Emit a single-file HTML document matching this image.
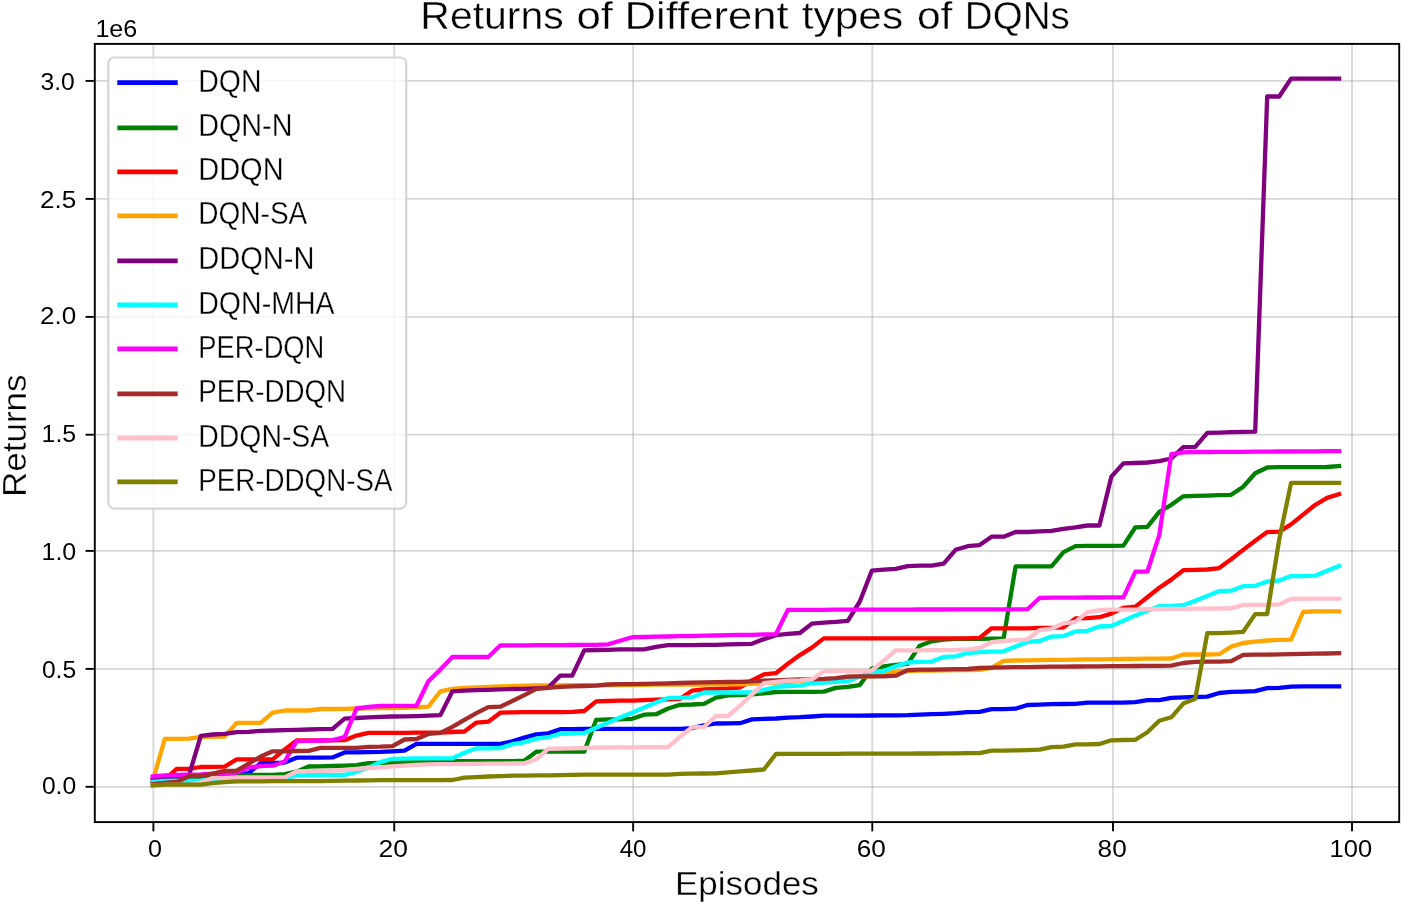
<!DOCTYPE html>
<html><head><meta charset="utf-8"><title>Returns of Different types of DQNs</title>
<style>html,body{margin:0;padding:0;background:#fff;overflow:hidden;}svg{display:block;font-family:"Liberation Sans",sans-serif;will-change:transform;filter:blur(0.45px);}text{font-family:"Liberation Sans",sans-serif;stroke:#fff;stroke-width:0;vector-effect:non-scaling-stroke;}.t1{stroke-width:0.4px}.t2{stroke-width:0.35px}.t3{stroke-width:0.3px}</style></head><body>
<svg width="1405" height="905" viewBox="0 0 1405 905">
<rect x="0" y="0" width="1405" height="905" fill="#ffffff"/>
<g stroke="#b0b0b0" stroke-opacity="0.5" stroke-width="1.8" fill="none">
<line x1="153.40" y1="43.9" x2="153.40" y2="822.1"/>
<line x1="394.25" y1="43.9" x2="394.25" y2="822.1"/>
<line x1="633.15" y1="43.9" x2="633.15" y2="822.1"/>
<line x1="872.30" y1="43.9" x2="872.30" y2="822.1"/>
<line x1="1113.00" y1="43.9" x2="1113.00" y2="822.1"/>
<line x1="1352.00" y1="43.9" x2="1352.00" y2="822.1"/>
<line x1="94.8" y1="786.80" x2="1399.2" y2="786.80"/>
<line x1="94.8" y1="668.90" x2="1399.2" y2="668.90"/>
<line x1="94.8" y1="550.90" x2="1399.2" y2="550.90"/>
<line x1="94.8" y1="434.70" x2="1399.2" y2="434.70"/>
<line x1="94.8" y1="316.90" x2="1399.2" y2="316.90"/>
<line x1="94.8" y1="198.90" x2="1399.2" y2="198.90"/>
<line x1="94.8" y1="80.90" x2="1399.2" y2="80.90"/>
</g>
<clipPath id="ax"><rect x="94.8" y="43.9" width="1304.4" height="778.2"/></clipPath>
<g clip-path="url(#ax)" fill="none" stroke-width="4.3" stroke-linejoin="round" stroke-linecap="square">
<polyline stroke="#0000ff" points="152.8,781.8 164.8,779.0 176.8,778.6 188.8,778.3 200.8,777.8 212.8,777.1 224.7,776.0 236.7,774.8 248.7,773.1 260.7,763.2 272.7,762.9 284.7,762.6 296.6,757.7 308.6,757.7 320.6,757.7 332.6,757.4 344.6,752.4 356.5,752.4 368.5,752.1 380.5,751.9 392.5,751.3 404.5,750.6 416.5,743.8 428.4,743.8 440.4,743.8 452.4,743.8 464.4,743.8 476.4,743.8 488.3,743.8 500.3,743.8 512.3,741.4 524.3,737.6 536.3,734.4 548.3,733.4 560.2,729.2 572.2,729.2 584.2,728.8 596.2,728.8 608.2,728.8 620.1,728.8 632.1,728.8 644.1,728.8 656.1,728.8 668.1,728.8 680.1,728.8 692.0,728.2 704.0,725.4 716.0,723.5 728.0,723.3 740.0,723.2 751.9,719.4 763.9,718.9 775.9,718.5 787.9,717.6 799.9,717.2 811.9,716.5 823.8,715.7 835.8,715.7 847.8,715.7 859.8,715.7 871.8,715.5 883.8,715.3 895.7,715.3 907.7,715.1 919.7,714.6 931.7,714.2 943.7,713.8 955.6,713.2 967.6,712.2 979.6,711.8 991.6,709.2 1003.6,709.2 1015.6,708.7 1027.5,705.0 1039.5,704.6 1051.5,704.2 1063.5,704.0 1075.5,703.8 1087.4,702.6 1099.4,702.6 1111.4,702.6 1123.4,702.6 1135.4,702.2 1147.4,700.2 1159.3,700.1 1171.3,697.8 1183.3,697.3 1195.3,697.0 1207.3,696.6 1219.2,693.0 1231.2,691.9 1243.2,691.6 1255.2,691.2 1267.2,688.1 1279.2,687.8 1291.1,686.7 1303.1,686.3 1315.1,686.3 1327.1,686.3 1339.1,686.3"/>
<polyline stroke="#008000" points="152.8,784.2 164.8,783.0 176.8,781.8 188.8,780.7 200.8,779.5 212.8,777.6 224.7,776.4 236.7,775.5 248.7,775.1 260.7,774.9 272.7,774.8 284.7,774.2 296.6,771.7 308.6,766.5 320.6,766.3 332.6,766.0 344.6,765.6 356.5,765.2 368.5,763.2 380.5,763.0 392.5,762.6 404.5,762.1 416.5,761.6 428.4,761.4 440.4,761.2 452.4,761.2 464.4,761.2 476.4,761.2 488.3,761.2 500.3,761.2 512.3,761.2 524.3,760.7 536.3,751.7 548.3,751.7 560.2,751.7 572.2,751.7 584.2,751.7 596.2,719.8 608.2,719.4 620.1,719.4 632.1,718.8 644.1,714.7 656.1,714.2 668.1,708.5 680.1,704.8 692.0,704.5 704.0,703.8 716.0,697.7 728.0,695.4 740.0,695.1 751.9,694.4 763.9,693.4 775.9,692.0 787.9,691.8 799.9,691.8 811.9,691.8 823.8,691.6 835.8,687.9 847.8,686.9 859.8,685.1 871.8,668.7 883.8,666.3 895.7,665.0 907.7,663.8 919.7,645.7 931.7,641.3 943.7,639.5 955.6,638.9 967.6,638.8 979.6,638.8 991.6,638.6 1003.6,638.5 1015.6,566.3 1027.5,566.3 1039.5,566.3 1051.5,566.3 1063.5,552.1 1075.5,546.1 1087.4,545.9 1099.4,545.9 1111.4,545.9 1123.4,545.6 1135.4,527.3 1147.4,526.8 1159.3,511.9 1171.3,504.8 1183.3,496.3 1195.3,495.9 1207.3,495.6 1219.2,495.2 1231.2,494.8 1243.2,486.7 1255.2,473.3 1267.2,467.5 1279.2,467.2 1291.1,467.2 1303.1,467.2 1315.1,467.2 1327.1,467.0 1339.1,466.0"/>
<polyline stroke="#ff0000" points="152.8,780.0 164.8,779.3 176.8,768.9 188.8,768.9 200.8,767.0 212.8,766.8 224.7,766.6 236.7,759.3 248.7,759.3 260.7,759.3 272.7,759.3 284.7,749.4 296.6,740.5 308.6,740.5 320.6,740.5 332.6,740.3 344.6,740.2 356.5,735.6 368.5,732.8 380.5,732.8 392.5,732.8 404.5,732.8 416.5,732.6 428.4,732.6 440.4,732.6 452.4,732.0 464.4,731.5 476.4,722.6 488.3,721.7 500.3,712.7 512.3,712.3 524.3,712.2 536.3,712.2 548.3,712.2 560.2,712.2 572.2,711.8 584.2,711.0 596.2,701.4 608.2,701.0 620.1,700.6 632.1,700.6 644.1,700.1 656.1,699.7 668.1,699.3 680.1,698.8 692.0,690.7 704.0,689.4 716.0,688.8 728.0,688.3 740.0,687.5 751.9,680.4 763.9,674.4 775.9,673.2 787.9,663.8 799.9,655.1 811.9,647.6 823.8,638.4 835.8,638.4 847.8,638.4 859.8,638.4 871.8,638.4 883.8,638.4 895.7,638.4 907.7,638.4 919.7,638.4 931.7,638.4 943.7,638.4 955.6,638.4 967.6,638.4 979.6,637.9 991.6,628.3 1003.6,628.3 1015.6,628.3 1027.5,628.3 1039.5,627.8 1051.5,627.8 1063.5,627.3 1075.5,618.4 1087.4,618.1 1099.4,617.2 1111.4,613.6 1123.4,607.8 1135.4,606.6 1147.4,597.3 1159.3,587.8 1171.3,579.6 1183.3,570.2 1195.3,569.9 1207.3,569.5 1219.2,568.1 1231.2,559.3 1243.2,549.9 1255.2,540.7 1267.2,532.1 1279.2,531.6 1291.1,524.4 1303.1,514.7 1315.1,505.0 1327.1,497.9 1339.1,494.1"/>
<polyline stroke="#ffa500" points="152.8,780.9 164.8,738.9 176.8,738.9 188.8,738.6 200.8,736.9 212.8,736.9 224.7,736.7 236.7,722.8 248.7,722.8 260.7,722.8 272.7,712.6 284.7,710.5 296.6,710.5 308.6,710.5 320.6,709.0 332.6,709.0 344.6,708.8 356.5,708.5 368.5,708.4 380.5,708.2 392.5,708.1 404.5,707.8 416.5,707.4 428.4,706.7 440.4,691.3 452.4,688.8 464.4,687.8 476.4,687.3 488.3,686.8 500.3,686.5 512.3,686.1 524.3,685.7 536.3,685.4 548.3,685.4 560.2,685.3 572.2,685.2 584.2,685.2 596.2,685.1 608.2,685.0 620.1,685.0 632.1,684.9 644.1,684.8 656.1,684.7 668.1,684.7 680.1,684.6 692.0,684.5 704.0,684.5 716.0,684.4 728.0,684.3 740.0,684.3 751.9,683.8 763.9,683.1 775.9,682.6 787.9,681.9 799.9,681.2 811.9,680.7 823.8,680.3 835.8,679.6 847.8,677.0 859.8,676.5 871.8,676.3 883.8,674.9 895.7,671.3 907.7,671.0 919.7,670.7 931.7,670.6 943.7,670.4 955.6,670.2 967.6,670.0 979.6,669.8 991.6,667.8 1003.6,660.8 1015.6,660.5 1027.5,660.3 1039.5,660.1 1051.5,659.9 1063.5,659.8 1075.5,659.6 1087.4,659.4 1099.4,659.3 1111.4,659.1 1123.4,659.0 1135.4,658.9 1147.4,658.7 1159.3,658.6 1171.3,658.5 1183.3,654.5 1195.3,654.5 1207.3,654.5 1219.2,654.2 1231.2,646.6 1243.2,643.0 1255.2,641.7 1267.2,640.5 1279.2,639.9 1291.1,639.7 1303.1,612.0 1315.1,611.4 1327.1,611.4 1339.1,611.4"/>
<polyline stroke="#800080" points="152.8,779.5 164.8,778.3 176.8,777.1 188.8,776.0 200.8,735.8 212.8,734.5 224.7,733.9 236.7,732.2 248.7,731.8 260.7,730.9 272.7,730.5 284.7,730.1 296.6,729.8 308.6,729.5 320.6,729.2 332.6,728.9 344.6,718.6 356.5,718.0 368.5,717.3 380.5,716.8 392.5,716.5 404.5,716.4 416.5,716.1 428.4,715.7 440.4,715.1 452.4,691.3 464.4,690.7 476.4,690.1 488.3,689.8 500.3,689.4 512.3,689.0 524.3,688.8 536.3,688.3 548.3,687.6 560.2,675.7 572.2,675.7 584.2,650.4 596.2,650.0 608.2,649.8 620.1,649.4 632.1,649.4 644.1,649.4 656.1,646.9 668.1,645.1 680.1,645.1 692.0,645.1 704.0,644.8 716.0,644.8 728.0,644.4 740.0,644.2 751.9,643.8 763.9,639.1 775.9,635.1 787.9,633.8 799.9,633.0 811.9,623.6 823.8,622.7 835.8,621.9 847.8,620.8 859.8,601.5 871.8,570.7 883.8,569.6 895.7,568.9 907.7,566.1 919.7,565.7 931.7,565.7 943.7,563.6 955.6,549.8 967.6,546.2 979.6,545.1 991.6,536.7 1003.6,536.7 1015.6,532.0 1027.5,532.0 1039.5,531.4 1051.5,530.9 1063.5,528.8 1075.5,527.3 1087.4,525.5 1099.4,525.5 1111.4,476.6 1123.4,463.4 1135.4,463.0 1147.4,462.5 1159.3,461.1 1171.3,458.5 1183.3,447.1 1195.3,446.8 1207.3,432.9 1219.2,432.6 1231.2,432.2 1243.2,431.9 1255.2,431.7 1267.2,96.5 1279.2,96.5 1291.1,78.6 1303.1,78.6 1315.1,78.6 1327.1,78.6 1339.1,78.6"/>
<polyline stroke="#00ffff" points="152.8,781.8 164.8,780.8 176.8,780.7 188.8,780.6 200.8,780.4 212.8,779.5 224.7,779.0 236.7,779.0 248.7,779.0 260.7,779.0 272.7,779.0 284.7,778.6 296.6,775.3 308.6,775.1 320.6,775.0 332.6,774.9 344.6,774.8 356.5,771.8 368.5,767.6 380.5,762.1 392.5,758.8 404.5,758.6 416.5,758.3 428.4,758.3 440.4,758.3 452.4,758.3 464.4,752.7 476.4,748.3 488.3,748.3 500.3,748.0 512.3,744.2 524.3,742.3 536.3,738.6 548.3,737.2 560.2,733.9 572.2,733.5 584.2,732.9 596.2,727.8 608.2,722.6 620.1,717.6 632.1,712.7 644.1,707.5 656.1,702.6 668.1,697.9 680.1,697.9 692.0,697.2 704.0,692.5 716.0,692.5 728.0,692.5 740.0,692.5 751.9,692.5 763.9,689.8 775.9,686.9 787.9,686.0 799.9,685.7 811.9,683.2 823.8,682.6 835.8,681.9 847.8,681.3 859.8,676.6 871.8,672.5 883.8,671.0 895.7,666.3 907.7,662.5 919.7,661.9 931.7,661.6 943.7,656.9 955.6,656.4 967.6,653.0 979.6,652.0 991.6,651.7 1003.6,651.3 1015.6,646.4 1027.5,641.9 1039.5,641.0 1051.5,636.6 1063.5,636.1 1075.5,631.4 1087.4,630.8 1099.4,626.5 1111.4,626.0 1123.4,620.7 1135.4,615.4 1147.4,610.7 1159.3,606.2 1171.3,606.0 1183.3,605.2 1195.3,600.8 1207.3,596.1 1219.2,591.1 1231.2,590.7 1243.2,586.2 1255.2,585.8 1267.2,581.4 1279.2,580.5 1291.1,576.1 1303.1,576.1 1315.1,575.7 1327.1,570.8 1339.1,566.0"/>
<polyline stroke="#ff00ff" points="152.8,776.4 164.8,775.3 176.8,774.8 188.8,774.6 200.8,774.3 212.8,773.7 224.7,772.9 236.7,772.6 248.7,767.7 260.7,766.0 272.7,765.7 284.7,761.5 296.6,741.1 308.6,740.9 320.6,740.5 332.6,740.2 344.6,737.2 356.5,708.5 368.5,706.8 380.5,706.0 392.5,705.9 404.5,705.9 416.5,705.8 428.4,681.3 440.4,669.6 452.4,657.0 464.4,657.0 476.4,657.0 488.3,657.0 500.3,645.5 512.3,645.4 524.3,645.3 536.3,645.2 548.3,645.1 560.2,645.1 572.2,645.0 584.2,644.8 596.2,644.8 608.2,644.3 620.1,640.8 632.1,637.2 644.1,637.0 656.1,636.7 668.1,636.5 680.1,636.2 692.0,636.0 704.0,635.7 716.0,635.5 728.0,635.2 740.0,634.9 751.9,634.8 763.9,634.4 775.9,634.2 787.9,609.9 799.9,609.8 811.9,609.8 823.8,609.8 835.8,609.7 847.8,609.7 859.8,609.7 871.8,609.6 883.8,609.6 895.7,609.6 907.7,609.6 919.7,609.5 931.7,609.5 943.7,609.5 955.6,609.4 967.6,609.4 979.6,609.4 991.6,609.3 1003.6,609.3 1015.6,609.3 1027.5,609.2 1039.5,598.0 1051.5,597.7 1063.5,597.7 1075.5,597.6 1087.4,597.5 1099.4,597.5 1111.4,597.4 1123.4,597.4 1135.4,571.6 1147.4,571.5 1159.3,534.9 1171.3,454.2 1183.3,452.4 1195.3,452.0 1207.3,452.0 1219.2,451.9 1231.2,451.8 1243.2,451.8 1255.2,451.7 1267.2,451.6 1279.2,451.5 1291.1,451.5 1303.1,451.4 1315.1,451.3 1327.1,451.2 1339.1,451.2"/>
<polyline stroke="#a52a2a" points="152.8,784.2 164.8,783.0 176.8,782.0 188.8,776.2 200.8,776.0 212.8,773.7 224.7,770.9 236.7,770.7 248.7,763.7 260.7,756.5 272.7,751.3 284.7,751.3 296.6,751.0 308.6,750.8 320.6,747.9 332.6,747.9 344.6,747.9 356.5,747.8 368.5,746.8 380.5,746.6 392.5,746.1 404.5,739.5 416.5,739.0 428.4,733.9 440.4,732.9 452.4,726.9 464.4,719.8 476.4,713.2 488.3,707.1 500.3,706.7 512.3,701.0 524.3,695.1 536.3,688.8 548.3,687.9 560.2,686.9 572.2,686.4 584.2,686.0 596.2,685.7 608.2,684.5 620.1,684.1 632.1,684.1 644.1,683.8 656.1,683.6 668.1,683.3 680.1,683.0 692.0,682.6 704.0,682.4 716.0,682.1 728.0,682.0 740.0,681.9 751.9,681.3 763.9,680.7 775.9,680.4 787.9,680.0 799.9,679.4 811.9,679.4 823.8,678.9 835.8,678.1 847.8,676.6 859.8,676.3 871.8,676.3 883.8,676.3 895.7,675.7 907.7,670.1 919.7,669.7 931.7,669.6 943.7,669.4 955.6,669.2 967.6,669.0 979.6,668.0 991.6,667.6 1003.6,667.3 1015.6,667.2 1027.5,667.1 1039.5,666.9 1051.5,666.7 1063.5,666.6 1075.5,666.5 1087.4,666.4 1099.4,666.3 1111.4,666.2 1123.4,666.1 1135.4,666.0 1147.4,665.9 1159.3,665.9 1171.3,665.6 1183.3,663.0 1195.3,661.9 1207.3,661.6 1219.2,661.6 1231.2,661.2 1243.2,654.9 1255.2,654.7 1267.2,654.6 1279.2,654.4 1291.1,654.2 1303.1,653.9 1315.1,653.7 1327.1,653.5 1339.1,653.2"/>
<polyline stroke="#ffc0cb" points="152.8,785.4 164.8,784.9 176.8,784.9 188.8,784.9 200.8,782.6 212.8,778.1 224.7,777.8 236.7,777.5 248.7,777.5 260.7,777.5 272.7,777.5 284.7,777.4 296.6,771.5 308.6,771.2 320.6,770.9 332.6,770.7 344.6,770.1 356.5,768.9 368.5,768.2 380.5,767.4 392.5,766.4 404.5,765.6 416.5,764.9 428.4,764.4 440.4,764.2 452.4,764.1 464.4,764.0 476.4,763.8 488.3,763.7 500.3,763.6 512.3,763.5 524.3,763.4 536.3,759.3 548.3,748.9 560.2,748.5 572.2,748.3 584.2,748.0 596.2,747.6 608.2,747.5 620.1,747.4 632.1,747.3 644.1,747.2 656.1,747.1 668.1,747.0 680.1,736.7 692.0,727.3 704.0,726.9 716.0,716.0 728.0,716.0 740.0,705.7 751.9,694.4 763.9,683.2 775.9,681.9 787.9,680.7 799.9,680.4 811.9,679.4 823.8,671.3 835.8,671.0 847.8,671.0 859.8,671.0 871.8,670.6 883.8,660.7 895.7,650.3 907.7,650.3 919.7,650.3 931.7,650.2 943.7,650.1 955.6,650.0 967.6,649.5 979.6,648.0 991.6,642.2 1003.6,641.0 1015.6,640.1 1027.5,639.3 1039.5,630.1 1051.5,628.7 1063.5,623.4 1075.5,621.9 1087.4,612.2 1099.4,610.1 1111.4,609.6 1123.4,609.6 1135.4,609.6 1147.4,609.2 1159.3,609.0 1171.3,608.9 1183.3,608.8 1195.3,608.7 1207.3,608.6 1219.2,608.5 1231.2,608.4 1243.2,604.9 1255.2,604.9 1267.2,604.9 1279.2,604.3 1291.1,599.0 1303.1,598.7 1315.1,598.7 1327.1,598.7 1339.1,598.7"/>
<polyline stroke="#808000" points="152.8,785.4 164.8,784.7 176.8,784.7 188.8,784.7 200.8,784.7 212.8,783.1 224.7,782.2 236.7,781.4 248.7,781.4 260.7,781.3 272.7,781.2 284.7,781.2 296.6,781.2 308.6,781.2 320.6,781.2 332.6,780.9 344.6,780.7 356.5,780.5 368.5,780.4 380.5,780.2 392.5,780.1 404.5,780.1 416.5,780.1 428.4,780.1 440.4,780.1 452.4,780.0 464.4,777.6 476.4,777.1 488.3,776.5 500.3,776.2 512.3,775.7 524.3,775.6 536.3,775.4 548.3,775.4 560.2,775.2 572.2,774.8 584.2,774.6 596.2,774.6 608.2,774.6 620.1,774.6 632.1,774.6 644.1,774.6 656.1,774.6 668.1,774.6 680.1,773.9 692.0,773.7 704.0,773.5 716.0,773.3 728.0,772.4 740.0,771.4 751.9,770.5 763.9,769.5 775.9,754.0 787.9,753.9 799.9,753.9 811.9,753.9 823.8,753.8 835.8,753.8 847.8,753.7 859.8,753.7 871.8,753.7 883.8,753.6 895.7,753.6 907.7,753.6 919.7,753.5 931.7,753.5 943.7,753.4 955.6,753.4 967.6,753.2 979.6,753.1 991.6,750.7 1003.6,750.7 1015.6,750.4 1027.5,750.1 1039.5,749.7 1051.5,747.2 1063.5,746.7 1075.5,744.3 1087.4,744.3 1099.4,744.0 1111.4,740.3 1123.4,740.0 1135.4,739.8 1147.4,732.2 1159.3,720.7 1171.3,717.3 1183.3,703.6 1195.3,698.7 1207.3,633.2 1219.2,633.2 1231.2,632.6 1243.2,631.8 1255.2,614.1 1267.2,614.1 1279.2,539.6 1291.1,482.8 1303.1,482.8 1315.1,482.8 1327.1,482.8 1339.1,482.8"/>
</g>
<rect x="94.8" y="43.9" width="1304.40" height="778.20" fill="none" stroke="#000" stroke-width="1.9"/>
<g stroke="#000" stroke-width="1.9">
<line x1="153.40" y1="823.05" x2="153.40" y2="831.35"/>
<line x1="394.25" y1="823.05" x2="394.25" y2="831.35"/>
<line x1="633.15" y1="823.05" x2="633.15" y2="831.35"/>
<line x1="872.30" y1="823.05" x2="872.30" y2="831.35"/>
<line x1="1113.00" y1="823.05" x2="1113.00" y2="831.35"/>
<line x1="1352.00" y1="823.05" x2="1352.00" y2="831.35"/>
<line x1="93.85" y1="786.80" x2="85.55" y2="786.80"/>
<line x1="93.85" y1="668.90" x2="85.55" y2="668.90"/>
<line x1="93.85" y1="550.90" x2="85.55" y2="550.90"/>
<line x1="93.85" y1="434.70" x2="85.55" y2="434.70"/>
<line x1="93.85" y1="316.90" x2="85.55" y2="316.90"/>
<line x1="93.85" y1="198.90" x2="85.55" y2="198.90"/>
<line x1="93.85" y1="80.90" x2="85.55" y2="80.90"/>
</g>
<text transform="translate(40.48,89.80) scale(1.0438,1)" font-size="23.60" fill="#000" >3.0</text>
<text transform="translate(40.00,207.80) scale(1.1048,1)" font-size="23.60" fill="#000" >2.5</text>
<text transform="translate(39.99,324.10) scale(1.1059,1)" font-size="23.60" fill="#000" >2.0</text>
<text transform="translate(41.53,441.80) scale(1.0566,1)" font-size="23.60" fill="#000" >1.5</text>
<text transform="translate(41.53,559.80) scale(1.0579,1)" font-size="23.60" fill="#000" >1.0</text>
<text transform="translate(41.91,677.80) scale(1.0446,1)" font-size="23.60" fill="#000" >0.5</text>
<text transform="translate(41.91,794.10) scale(1.0458,1)" font-size="23.60" fill="#000" >0.0</text>
<text transform="translate(147.99,856.50) scale(1.0647,1)" font-size="23.60" fill="#000" >0</text>
<text transform="translate(378.48,856.50) scale(1.1187,1)" font-size="23.60" fill="#000" >20</text>
<text transform="translate(619.66,856.50) scale(1.0208,1)" font-size="23.60" fill="#000" >40</text>
<text transform="translate(856.69,856.50) scale(1.1104,1)" font-size="23.60" fill="#000" >60</text>
<text transform="translate(1097.59,856.50) scale(1.1105,1)" font-size="23.60" fill="#000" >80</text>
<text transform="translate(1329.59,856.50) scale(1.0816,1)" font-size="23.60" fill="#000" >100</text>
<text transform="translate(95.42,36.50) scale(1.0632,1)" font-size="23.60" fill="#000" >1e6</text>
<text transform="translate(675.01,895.00) scale(1.0454,1)" font-size="33.45" fill="#000" class="t2">Episodes</text>
<text transform="translate(26.2,496.89) rotate(-90) scale(1.0455,1)" font-size="33.45" class="t2">Returns</text>
<text transform="translate(420.32,29.40) scale(1.0671,1)" font-size="38.40" fill="#000" class="t1">Returns</text>
<text transform="translate(576.44,29.40) scale(1.1402,1)" font-size="38.40" fill="#000" class="t1">of</text>
<text transform="translate(624.50,29.40) scale(1.1375,1)" font-size="38.40" fill="#000" class="t1">Different</text>
<text transform="translate(801.66,29.40) scale(1.1073,1)" font-size="38.40" fill="#000" class="t1">types</text>
<text transform="translate(916.89,29.40) scale(1.1074,1)" font-size="38.40" fill="#000" class="t1">of</text>
<text transform="translate(964.82,29.40) scale(1.0037,1)" font-size="38.40" fill="#000" class="t1">DQNs</text>
<rect x="108.3" y="57.5" width="297.90" height="451.10" rx="6" ry="6" fill="#ffffff" fill-opacity="0.8" stroke="#cccccc" stroke-opacity="0.8" stroke-width="2.2"/>
<line x1="119.70" y1="82.60" x2="175.30" y2="82.60" stroke="#0000ff" stroke-width="4.8" stroke-linecap="square"/>
<text transform="translate(198.25,91.60) scale(0.9193,1)" font-size="30.98" fill="#000" class="t3">DQN</text>
<line x1="119.70" y1="127.80" x2="175.30" y2="127.80" stroke="#008000" stroke-width="4.8" stroke-linecap="square"/>
<text transform="translate(198.23,135.50) scale(0.9281,1)" font-size="30.98" fill="#000" class="t3">DQN-N</text>
<line x1="119.70" y1="171.80" x2="175.30" y2="171.80" stroke="#ff0000" stroke-width="4.8" stroke-linecap="square"/>
<text transform="translate(198.21,180.30) scale(0.9370,1)" font-size="30.98" fill="#000" class="t3">DDQN</text>
<line x1="119.70" y1="215.80" x2="175.30" y2="215.80" stroke="#ffa500" stroke-width="4.8" stroke-linecap="square"/>
<text transform="translate(198.29,224.30) scale(0.9051,1)" font-size="30.98" fill="#000" class="t3">DQN-SA</text>
<line x1="119.70" y1="260.80" x2="175.30" y2="260.80" stroke="#800080" stroke-width="4.8" stroke-linecap="square"/>
<text transform="translate(198.20,268.80) scale(0.9384,1)" font-size="30.98" fill="#000" class="t3">DDQN-N</text>
<line x1="119.70" y1="304.90" x2="175.30" y2="304.90" stroke="#00ffff" stroke-width="4.8" stroke-linecap="square"/>
<text transform="translate(198.24,313.80) scale(0.9217,1)" font-size="30.98" fill="#000" class="t3">DQN-MHA</text>
<line x1="119.70" y1="348.80" x2="175.30" y2="348.80" stroke="#ff00ff" stroke-width="4.8" stroke-linecap="square"/>
<text transform="translate(198.34,357.70) scale(0.8825,1)" font-size="30.98" fill="#000" class="t3">PER-DQN</text>
<line x1="119.70" y1="393.90" x2="175.30" y2="393.90" stroke="#a52a2a" stroke-width="4.8" stroke-linecap="square"/>
<text transform="translate(198.31,402.00) scale(0.8946,1)" font-size="30.98" fill="#000" class="t3">PER-DDQN</text>
<line x1="119.70" y1="438.00" x2="175.30" y2="438.00" stroke="#ffc0cb" stroke-width="4.8" stroke-linecap="square"/>
<text transform="translate(198.25,446.90) scale(0.9175,1)" font-size="30.98" fill="#000" class="t3">DDQN-SA</text>
<line x1="119.70" y1="481.90" x2="175.30" y2="481.90" stroke="#808000" stroke-width="4.8" stroke-linecap="square"/>
<text transform="translate(198.31,490.80) scale(0.8953,1)" font-size="30.98" fill="#000" class="t3">PER-DDQN-SA</text>
</svg></body></html>
